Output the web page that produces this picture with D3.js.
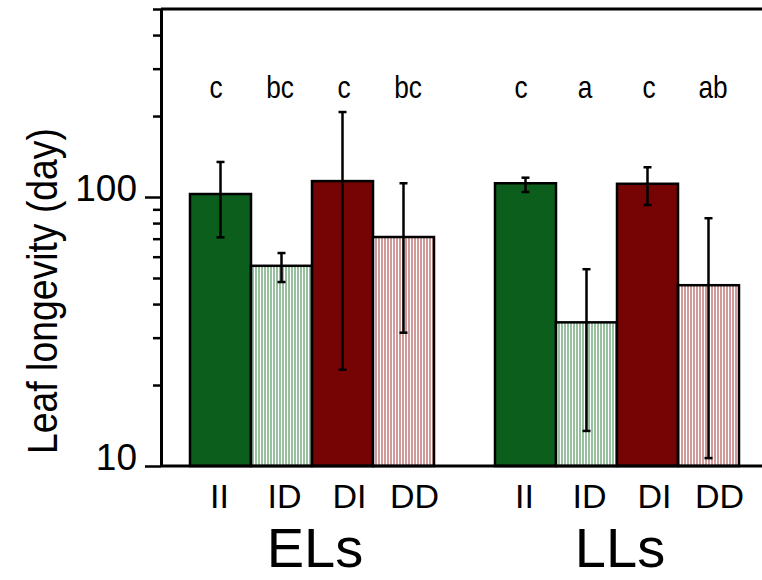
<!DOCTYPE html>
<html><head><meta charset="utf-8">
<script src="https://cdn.jsdelivr.net/npm/d3@7"></script>
<style>body{margin:0;background:#fff}svg{display:block}</style>
</head><body>
<svg id="chart" width="762" height="580"></svg>
<script>
const groupNames = ["ELs", "LLs"];
const treatments = ["II", "ID", "DI", "DD"];
const elMean = [102.6, 55.5, 114.6, 71.0];
const elLow = [70.8, 48.3, 22.8, 31.3];
const elHigh = [135, 61.9, 207, 112.5];
const elLetters = ["c", "bc", "c", "bc"];
const llMean = [112.5, 34.2, 112.0, 47.0];
const llLow = [104.4, 13.5, 93.4, 10.7];
const llHigh = [118, 53.9, 129, 83.4];
const llLetters = ["c", "a", "c", "ab"];
const yMajorTicks = [10, 100];
const yMinorTicks = [20, 30, 40, 50, 60, 70, 80, 90, 200, 300, 400, 500];
const yTitle = "Leaf longevity (day)";

const fills = {II: "#0b5e1b", ID: "url(#hatchGreen)", DI: "#770404", DD: "url(#hatchRed)"};

const svg = d3.select("#chart");
const defs = svg.append("defs");
function hatch(id, color) {
  const p = defs.append("pattern").attr("id", id).attr("patternUnits", "userSpaceOnUse")
    .attr("width", 3).attr("height", 10);
  p.append("rect").attr("width", 3).attr("height", 10).attr("fill", "#fff");
  p.append("rect").attr("width", 2).attr("height", 10).attr("fill", color);
}
hatch("hatchGreen", "#98c09f");
hatch("hatchRed", "#d09a9a");

const rows = [];
[[elMean, elLow, elHigh, elLetters], [llMean, llLow, llHigh, llLetters]].forEach((g, gi) => {
  treatments.forEach((t, i) => {
    rows.push({group: groupNames[gi], gi, i, t, mean: g[0][i], low: g[1][i], high: g[2][i], letter: g[3][i], slot: gi * 5 + i});
  });
});

const x = d3.scaleBand().domain(d3.range(9)).range([190, 739]).padding(0);
const y = d3.scaleLog().domain([10, 500]).range([466, 9]);
const axisX = 161, rightX = 762;

// bars
svg.append("g").selectAll("rect").data(rows).join("rect")
  .attr("x", d => x(d.slot)).attr("width", x.bandwidth())
  .attr("y", d => y(d.mean)).attr("height", d => y(10) - y(d.mean))
  .attr("fill", d => fills[d.t]).attr("stroke", "#000").attr("stroke-width", 2.5);

// error bars
const eb = svg.append("g").attr("stroke", "#000").attr("stroke-width", 2.5);
rows.forEach(d => {
  const cx = x(d.slot) + x.bandwidth() / 2;
  eb.append("line").attr("x1", cx).attr("x2", cx).attr("y1", y(d.low)).attr("y2", y(d.high));
  eb.append("line").attr("x1", cx - 4).attr("x2", cx + 4).attr("y1", y(d.low)).attr("y2", y(d.low));
  eb.append("line").attr("x1", cx - 4).attr("x2", cx + 4).attr("y1", y(d.high)).attr("y2", y(d.high));
});

// axes frame
svg.append("line").attr("x1", axisX).attr("x2", rightX).attr("y1", y(500)).attr("y2", y(500))
  .attr("stroke", "#000").attr("stroke-width", 3);
svg.append("line").attr("x1", axisX).attr("x2", rightX).attr("y1", y(10)).attr("y2", y(10))
  .attr("stroke", "#000").attr("stroke-width", 3);

const minorAxis = svg.append("g").attr("transform", `translate(${axisX},0)`)
  .call(d3.axisLeft(y).tickValues(yMinorTicks).tickSize(8).tickSizeOuter(0).tickFormat(""));
const majorAxis = svg.append("g").attr("transform", `translate(${axisX},0)`)
  .call(d3.axisLeft(y).tickValues(yMajorTicks).tickSize(16).tickSizeOuter(0).tickPadding(8).tickFormat(d3.format("d")));
[minorAxis, majorAxis].forEach(a => {
  a.selectAll("path.domain").attr("stroke", "#000").attr("stroke-width", 3);
  a.selectAll(".tick line").attr("stroke", "#000").attr("stroke-width", 2.5);
});
majorAxis.selectAll(".tick text").attr("dy", "3").attr("fill", "#000")
  .style("font-family", "Liberation Sans, Arial, sans-serif").style("font-size", "37px");

const font = "Liberation Sans, Arial, sans-serif";
// significance letters
svg.append("g").selectAll("text").data(rows).join("text")
  .attr("transform", d => {
    const gc = x(d.gi * 5) + 2 * x.bandwidth();
    return `translate(${gc + (d.i - 1.5) * 64},98) scale(0.82,1)`;
  })
  .attr("text-anchor", "middle").style("font-family", font).style("font-size", "32px")
  .text(d => d.letter);

// treatment labels
svg.append("g").selectAll("text").data(rows).join("text")
  .attr("x", d => x(d.gi * 5) + 2 * x.bandwidth() + 5 + (d.i - 1.5) * 65)
  .attr("y", 508).attr("text-anchor", "middle")
  .style("font-family", font).style("font-size", "34px").text(d => d.t);

// group labels
svg.append("g").selectAll("text").data(groupNames).join("text")
  .attr("x", (d, gi) => x(gi * 5) + 2 * x.bandwidth() + 3)
  .attr("y", 567).attr("text-anchor", "middle")
  .style("font-family", font).style("font-size", "56px").text(d => d);

// y title
svg.append("text").attr("transform", "translate(57,454) rotate(-90)")
  .attr("text-anchor", "start").attr("textLength", 326).attr("lengthAdjust", "spacingAndGlyphs")
  .style("font-family", font).style("font-size", "42px").text(yTitle);
</script>
</body></html>
